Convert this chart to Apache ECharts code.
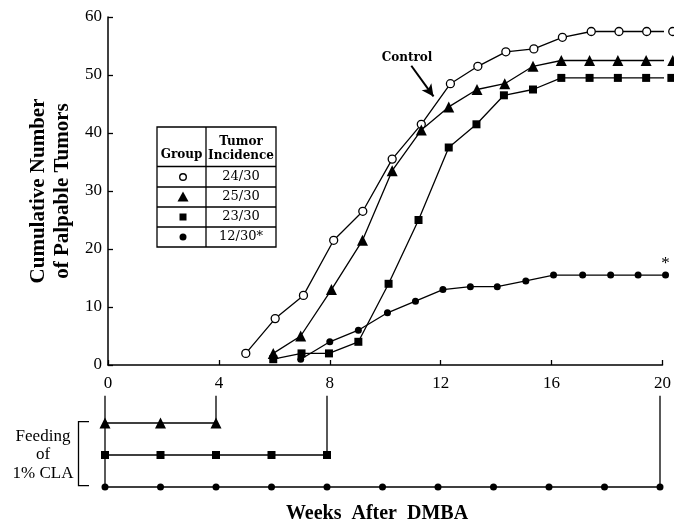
<!DOCTYPE html>
<html>
<head>
<meta charset="utf-8">
<title>Palpable tumors after DMBA</title>
<script src="https://cdn.jsdelivr.net/npm/echarts@6/dist/echarts.min.js"></script>
<style>
    html, body {margin: 0; padding: 0; background: #fff;}
    #main {width: 674px; height: 522px;}
</style>
</head>
<body>
<div id="main"></div>
<script>
// weeks (the hand drawn spacing drifts a little)
var controlWeeks = [4.97, 6.03, 7.05, 8.14, 9.19, 10.25, 11.3, 12.35, 13.34, 14.35, 15.36, 16.39, 17.43, 18.43, 19.43, 20.37];
var controlTumors = [2, 8, 12, 21.5, 26.5, 35.5, 41.5, 48.5, 51.5, 54, 54.5, 56.5, 57.5, 57.5, 57.5, 57.5];

var cla4Weeks = [5.96, 6.95, 8.06, 9.18, 10.25, 11.3, 12.29, 13.31, 14.31, 15.33, 16.35, 17.37, 18.39, 19.41, 20.37];
var cla4Tumors = [2, 5, 13, 21.5, 33.5, 40.5, 44.5, 47.5, 48.5, 51.5, 52.5, 52.5, 52.5, 52.5, 52.5];

var cla8Weeks = [5.96, 6.98, 7.97, 9.03, 10.12, 11.2, 12.29, 13.29, 14.28, 15.33, 16.35, 17.37, 18.39, 19.41, 20.32];
var cla8Tumors = [1, 2, 2, 4, 14, 25, 37.5, 41.5, 46.5, 47.5, 49.5, 49.5, 49.5, 49.5, 49.5];

var cla20Weeks = [6.95, 8, 9.03, 10.08, 11.09, 12.08, 13.07, 14.04, 15.07, 16.07, 17.12, 18.13, 19.12, 20.11];
var cla20Tumors = [1, 4, 6, 9, 11, 13, 13.5, 13.5, 14.5, 15.5, 15.5, 15.5, 15.5, 15.5];

// feeding schedule of 1% CLA (weeks)
var feed4 = [0, 2, 4];
var feed8 = [0, 2, 4, 6, 8];
var feed20 = [0, 2, 4, 6, 8, 10, 12, 14, 16, 18, 20];

var weekTicks = [0, 4, 8, 12, 16, 20];
var tumorTicks = [0, 10, 20, 30, 40, 50, 60];
var incidence = ['24/30', '25/30', '23/30', '12/30*'];

var serif = '"Liberation Serif", "Times New Roman", serif';
var cserif = '"DejaVu Serif", serif';

function pairs(xs, ys) {
    return xs.map(function (x, i) { return [x, ys[i]]; });
}

// a row of the feeding chart, with the stem up to the week label at its end
function feedRow(weeks, row) {
    var d = weeks.map(function (w) { return [w, row]; });
    d.push({value: [weeks[weeks.length - 1], 0.15], symbol: 'none'});
    return d;
}

function lineSeries(data, symbol, size, fill) {
    return {
        type: 'line',
        data: data,
        symbol: symbol,
        symbolSize: size,
        showAllSymbol: true,
        clip: false,
        lineStyle: {color: '#000', width: 1.3},
        itemStyle: {color: fill, borderColor: '#000', borderWidth: fill === '#fff' ? 1.3 : 0},
        emphasis: {disabled: true}
    };
}

var chart = echarts.init(document.getElementById('main'));

var s20 = lineSeries(pairs(cla20Weeks, cla20Tumors), 'circle', 7, '#000');
var last = s20.data.length - 1;
s20.data[last] = {
    value: s20.data[last],
    label: {show: true, formatter: '*', position: 'top', distance: 0, color: '#000', fontSize: 17, fontFamily: serif}
};

var sControl = lineSeries(pairs(controlWeeks, controlTumors), 'circle', 8, '#fff');
sControl.markLine = {
    silent: true,
    symbol: ['none', 'arrow'],
    symbolSize: [9, 12],
    label: {show: false},
    lineStyle: {color: '#000', width: 2, type: 'solid'},
    data: [[{coord: [10.94, 51.6]}, {coord: [11.74, 46.3]}]]
};

var table = [
    {type: 'rect', shape: {x: 157, y: 127, width: 119, height: 120}, style: {fill: '#fff', stroke: '#000', lineWidth: 1.3}},
    {type: 'line', shape: {x1: 206, y1: 127, x2: 206, y2: 247}, style: {stroke: '#000', lineWidth: 1.3}},
    {type: 'text', x: 181.5, y: 155, style: {text: 'Group', font: 'bold 12px ' + cserif, fill: '#000', textAlign: 'center', textVerticalAlign: 'middle'}},
    {type: 'text', x: 241, y: 149, style: {text: 'Tumor\nIncidence', font: 'bold 12px ' + cserif, lineHeight: 14, fill: '#000', textAlign: 'center', textVerticalAlign: 'middle'}},
    {type: 'circle', shape: {cx: 183, cy: 177, r: 3.3}, style: {fill: '#fff', stroke: '#000', lineWidth: 1.4}},
    {type: 'polygon', shape: {points: [[183, 191.5], [177.5, 201.5], [188.5, 201.5]]}, style: {fill: '#000'}},
    {type: 'rect', shape: {x: 179.5, y: 213.5, width: 7, height: 7}, style: {fill: '#000'}},
    {type: 'circle', shape: {cx: 183, cy: 237, r: 3.5}, style: {fill: '#000'}}
];
[166.5, 187, 207, 227].forEach(function (y) {
    table.push({type: 'line', shape: {x1: 157, y1: y, x2: 276, y2: y}, style: {stroke: '#000', lineWidth: 1.3}});
});
incidence.forEach(function (t, i) {
    table.push({type: 'text', x: 241, y: 177 + i * 20, style: {text: t, font: '13px ' + cserif, fill: '#000', textAlign: 'center', textVerticalAlign: 'middle'}});
});

chart.setOption({
    animation: false,
    backgroundColor: '#fff',
    grid: [
        {left: 108, right: 11, top: 17, bottom: 157},
        {left: 105, right: 14, top: 391, bottom: 35}
    ],
    xAxis: [
        {
            type: 'value', gridIndex: 0,
            min: weekTicks[0], max: weekTicks[weekTicks.length - 1], interval: weekTicks[1] - weekTicks[0],
            axisLine: {lineStyle: {color: '#000', width: 1.5}},
            axisTick: {inside: true, length: 5, lineStyle: {color: '#000', width: 1.3}},
            axisLabel: {margin: 10, color: '#000', fontSize: 17, fontFamily: serif},
            splitLine: {show: false}
        },
        {type: 'value', gridIndex: 1, min: 0, max: 20, show: false}
    ],
    yAxis: [
        {
            type: 'value', gridIndex: 0,
            min: tumorTicks[0], max: tumorTicks[tumorTicks.length - 1], interval: tumorTicks[1] - tumorTicks[0],
            name: 'Cumulative Number\nof Palpable Tumors',
            nameLocation: 'middle', nameRotate: 90, nameGap: 30,
            nameTextStyle: {color: '#000', fontSize: 21, fontWeight: 'bold', lineHeight: 24, fontFamily: serif},
            axisLine: {show: true, lineStyle: {color: '#000', width: 1.5}},
            axisTick: {show: true, inside: true, length: 5, lineStyle: {color: '#000', width: 1.3}},
            axisLabel: {margin: 6, color: '#000', fontSize: 17, fontFamily: serif},
            splitLine: {show: false}
        },
        {type: 'value', gridIndex: 1, min: 0, max: 3, inverse: true, show: false}
    ],
    series: [
        sControl,
        lineSeries(pairs(cla4Weeks, cla4Tumors), 'triangle', 11, '#000'),
        lineSeries(pairs(cla8Weeks, cla8Tumors), 'rect', 8, '#000'),
        s20,
        // feeding of 1% CLA
        Object.assign(lineSeries([{value: [0, 0.15], symbol: 'none'}, {value: [0, 3], symbol: 'none'}], 'none', 0, '#000'), {xAxisIndex: 1, yAxisIndex: 1}),
        Object.assign(lineSeries(feedRow(feed4, 1), 'triangle', 11, '#000'), {xAxisIndex: 1, yAxisIndex: 1}),
        Object.assign(lineSeries(feedRow(feed8, 2), 'rect', 8, '#000'), {xAxisIndex: 1, yAxisIndex: 1}),
        Object.assign(lineSeries(feedRow(feed20, 3), 'circle', 7, '#000'), {xAxisIndex: 1, yAxisIndex: 1})
    ],
    graphic: table.concat([
        {type: 'text', x: 407, y: 57.5, style: {text: 'Control', font: 'bold 12px ' + cserif, fill: '#000', textAlign: 'center', textVerticalAlign: 'middle'}},
        {type: 'text', x: 43, y: 455, style: {text: 'Feeding\nof\n1% CLA', font: '17px ' + serif, lineHeight: 18.5, fill: '#000', textAlign: 'center', textVerticalAlign: 'middle'}},
        {type: 'polyline', shape: {points: [[89, 421.7], [78.5, 421.7], [78.5, 485.7], [89, 485.7]]}, style: {stroke: '#000', lineWidth: 1.3, fill: null}},
        {type: 'text', x: 377, y: 514, style: {text: 'Weeks  After  DMBA', font: 'bold 20px ' + serif, fill: '#000', textAlign: 'center', textVerticalAlign: 'middle'}}
    ])
});
</script>
</body>
</html>
